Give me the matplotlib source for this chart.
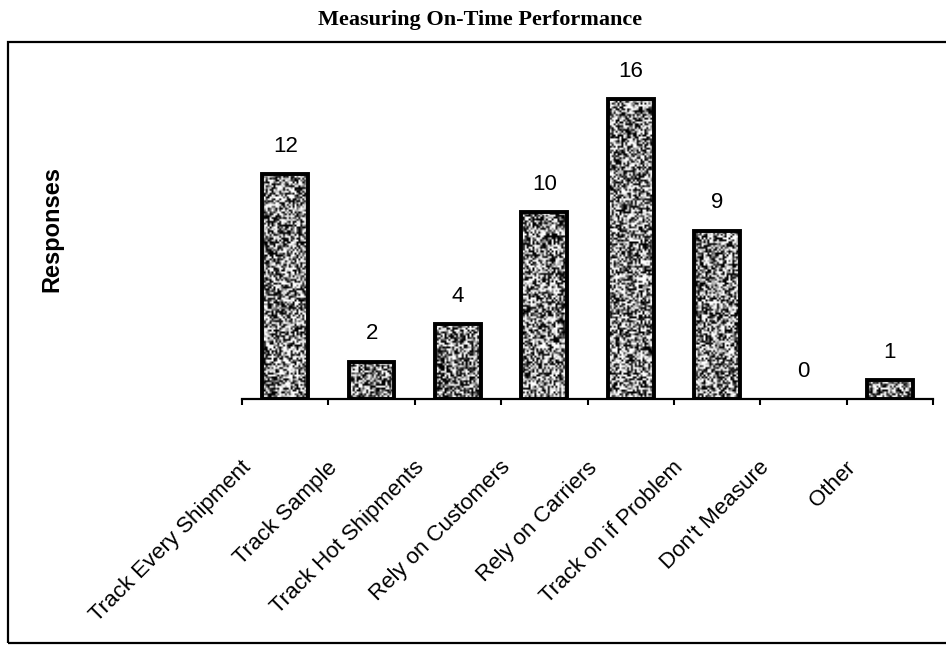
import matplotlib
matplotlib.use("Agg")
import matplotlib.pyplot as plt
import matplotlib.patches as mpatches
from matplotlib.transforms import ScaledTranslation
import numpy as np

# survey answers
categories = ["Track Every Shipment", "Track Sample", "Track Hot Shipments",
              "Rely on Customers", "Rely on Carriers", "Track on if Problem",
              "Don't Measure", "Other"]
responses = [12, 2, 4, 10, 16, 9, 0, 1]

title = "Measuring On-Time Performance"
ylabel = "Responses"

W, H, DPI = 946, 647, 100
fig = plt.figure(figsize=(W / DPI, H / DPI), dpi=DPI)
ax = fig.add_axes([242 / W, 1 - 399 / H, (933 - 242) / W, 337 / H])

x = np.arange(len(categories))
bars = ax.bar(x, responses, width=0.53, facecolor="none",
              edgecolor="black", linewidth=2.8, zorder=3)

# grainy stipple fill inside each bar
rng = np.random.default_rng(7)
for b in bars:
    h = b.get_height()
    if h <= 0:
        b.set_linewidth(0)
        continue
    rows = max(int(h * 10), 4)
    noise = rng.random((rows, 24))
    noise = np.clip((noise - 0.5) * 2.2 + 0.52, 0, 1)
    im = ax.imshow(noise, extent=[b.get_x(), b.get_x() + b.get_width(), 0, h],
                   aspect="auto", cmap="gray", vmin=0, vmax=1,
                   interpolation="bilinear", zorder=2)
    im.set_clip_path(b)

for xi, v in zip(x, responses):
    ax.annotate(str(v), (xi, v), xytext=(0, 20), textcoords="offset points",
                ha="center", va="center", fontsize=16,
                family="Liberation Sans")

ax.set_xlim(-0.5, len(categories) - 0.5)
ax.set_ylim(0, 18)
ax.set_aspect("auto")

for s in ["top", "right", "left"]:
    ax.spines[s].set_visible(False)
ax.spines["bottom"].set_linewidth(1.6)
ax.set_yticks([])

ax.set_xticks(x)
ax.set_xticklabels(categories, rotation=45, ha="right", va="center",
                   rotation_mode="anchor", fontsize=16,
                   family="Liberation Sans")
ax.tick_params(axis="x", which="major", length=0, pad=0)
ax.set_xticks(np.arange(len(categories) + 1) - 0.5, minor=True)
ax.tick_params(axis="x", which="minor", length=4.5, width=1.5,
               direction="out")

shift = ScaledTranslation(-0.37, -0.655, fig.dpi_scale_trans)
for lab in ax.get_xticklabels():
    lab.set_transform(lab.get_transform() + shift)

fig.text(52 / W, 1 - 229 / H, ylabel, rotation=90, ha="center", va="center",
         fontsize=17, fontweight="bold", family="Liberation Sans")
fig.text(480 / W, 1 - 25 / H, title, ha="center", va="baseline",
         fontsize=16, fontweight="bold", family="Liberation Serif")

# frame around the chart area
frame = mpatches.Rectangle((8 / W, 1 - 643 / H), 1.0, (643 - 42) / H,
                           transform=fig.transFigure, fill=False,
                           edgecolor="black", linewidth=1.6, clip_on=False)
fig.patches.append(frame)

fig.savefig("out.png", dpi=DPI)
